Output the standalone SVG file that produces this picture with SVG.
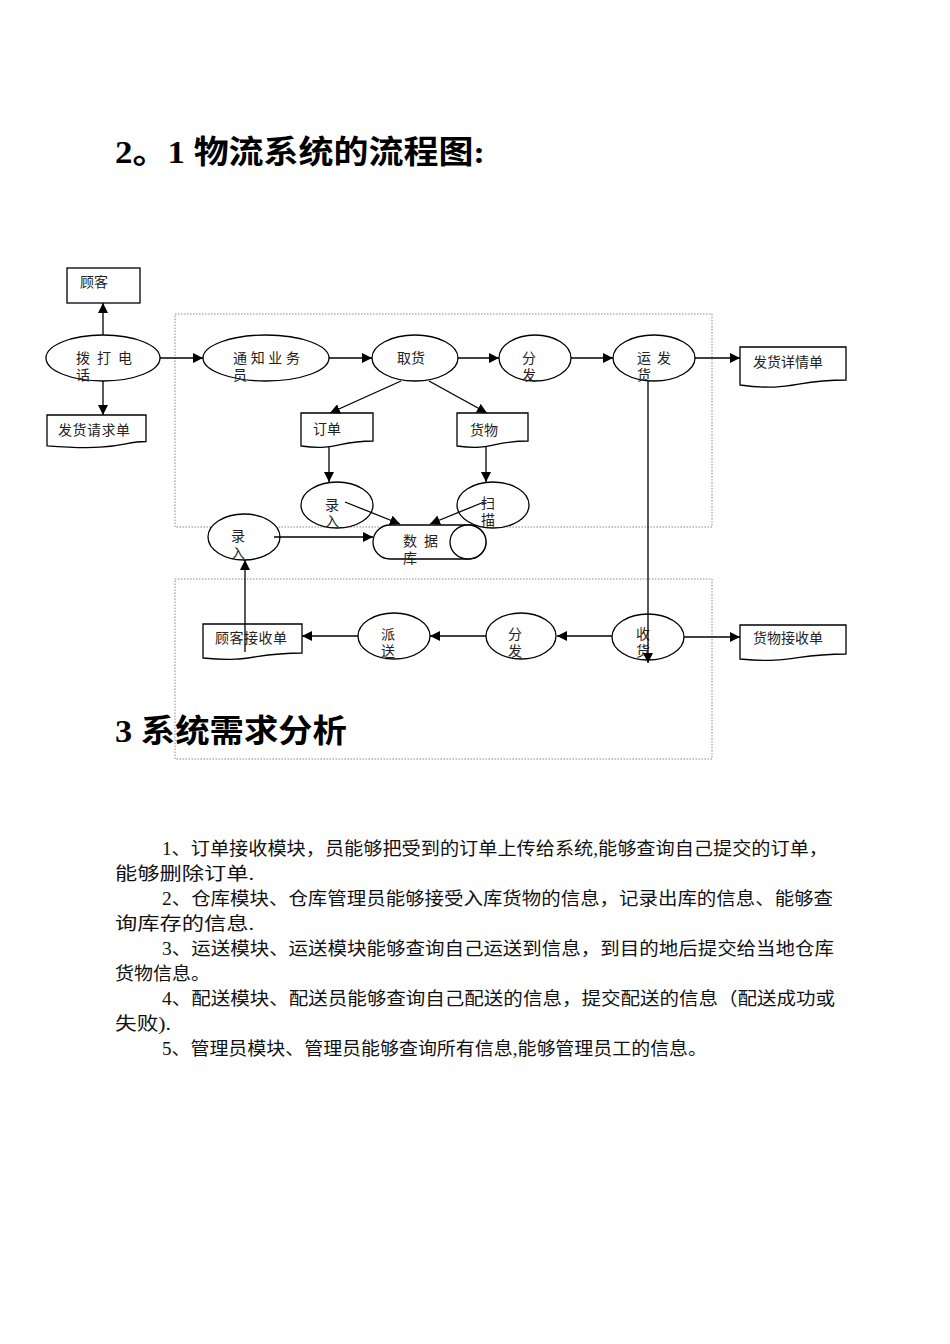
<svg xmlns="http://www.w3.org/2000/svg" width="950" height="1344" viewBox="0 0 950 1344">
<style>
.bg{fill:#fff}
.frame{fill:none;stroke:#888;stroke-width:1;stroke-dasharray:1.5,1.5}
.sh{fill:#fff;stroke:#000;stroke-width:1.3}
.lbl{font-family:"Liberation Sans","Noto Sans CJK SC",sans-serif;font-size:14px;fill:#222}
.ln{stroke:#000;stroke-width:1.3;fill:none;marker-end:url(#ah)}
.h{font-family:"Liberation Serif","Noto Sans CJK SC",serif;font-size:32px;font-weight:bold;fill:#000}
.p{font-family:"Liberation Serif","Noto Sans CJK SC",serif;font-size:18px;fill:#111}
</style>
<defs>
<marker id="ah" viewBox="0 0 10 10" refX="10" refY="5" markerWidth="10" markerHeight="10" markerUnits="userSpaceOnUse" orient="auto">
<path d="M0,0 L10,5 L0,10 Z" fill="#000"/>
</marker>
</defs>
<rect class="bg" width="950" height="1344"/>
<text class="h" x="115" y="163" textLength="370" lengthAdjust="spacingAndGlyphs">2。1 物流系统的流程图:</text>
<rect class="frame" x="175" y="314" width="537" height="213"/>
<rect class="frame" x="175" y="579" width="537" height="180"/>
<g id="n-guke"><rect class="sh" x="67" y="268" width="73" height="35"/><text class="lbl" x="80" y="287">顾客</text></g>
<g id="n-boda"><ellipse class="sh" cx="103" cy="358" rx="57" ry="23"/><text class="lbl" x="76" y="363" textLength="56">拨 打 电</text><text class="lbl" x="76" y="380">话</text></g>
<g id="n-qingqiu"><path class="sh" d="M47,415 H146 V441.5 C121,441.5 121,451.5 47,445.8 Z"/><text class="lbl" x="58" y="435" textLength="72">发货请求单</text></g>
<g id="n-tongzhi"><ellipse class="sh" cx="266" cy="358" rx="63" ry="23"/><text class="lbl" x="233" y="363" textLength="67">通 知 业 务</text><text class="lbl" x="233" y="380">员</text></g>
<g id="n-quhuo"><ellipse class="sh" cx="415" cy="358" rx="43" ry="23"/><text class="lbl" x="397" y="363">取货</text></g>
<g id="n-fenfa1"><ellipse class="sh" cx="535" cy="358" rx="36" ry="23"/><text class="lbl" x="522" y="363">分</text><text class="lbl" x="522" y="380">发</text></g>
<g id="n-yunfa"><ellipse class="sh" cx="654" cy="358" rx="41" ry="23"/><text class="lbl" x="637" y="363" textLength="34">运 发</text><text class="lbl" x="637" y="380">货</text></g>
<g id="n-xiangqing"><path class="sh" d="M740,347 H846 V380 C793,380 793,392 740,385 Z"/><text class="lbl" x="753" y="367" textLength="70">发货详情单</text></g>
<g id="n-dingdan"><path class="sh" d="M301,413 H373 V441 C337,441 337,451 301,446 Z"/><text class="lbl" x="313" y="434">订单</text></g>
<g id="n-huowu"><path class="sh" d="M457,413 H528 V441 C492,441 492,451 457,446 Z"/><text class="lbl" x="470" y="435">货物</text></g>
<g id="n-luru1"><ellipse class="sh" cx="337" cy="505" rx="36" ry="23"/><text class="lbl" x="325" y="510">录</text><text class="lbl" x="325" y="526">入</text></g>
<g id="n-saomiao"><ellipse class="sh" cx="493" cy="505" rx="36" ry="23"/><text class="lbl" x="481" y="508">扫</text><text class="lbl" x="481" y="525">描</text></g>
<g id="n-luru2"><ellipse class="sh" cx="244" cy="537" rx="36" ry="23"/><text class="lbl" x="231" y="541">录</text><text class="lbl" x="231" y="558">入</text></g>
<g id="n-db"><rect class="sh" x="373" y="525" width="113" height="34" rx="17" ry="17"/><ellipse class="sh" cx="468" cy="542" rx="18" ry="17"/><text class="lbl" x="403" y="546" textLength="35">数 据</text><text class="lbl" x="403" y="563">库</text></g>
<g id="n-shouhuo"><ellipse class="sh" cx="648" cy="637" rx="36" ry="23"/><text class="lbl" x="636" y="639">收</text><text class="lbl" x="636" y="656">货</text></g>
<g id="n-jieshou"><path class="sh" d="M740,625 H846 V654 C793,654 793,664 740,659 Z"/><text class="lbl" x="753" y="643" textLength="70">货物接收单</text></g>
<g id="n-fenfa2"><ellipse class="sh" cx="521" cy="636" rx="35" ry="23"/><text class="lbl" x="508" y="639">分</text><text class="lbl" x="508" y="656">发</text></g>
<g id="n-paisong"><ellipse class="sh" cx="394" cy="636" rx="36" ry="23"/><text class="lbl" x="381" y="639">派</text><text class="lbl" x="381" y="656">送</text></g>
<g id="n-kehu"><path class="sh" d="M203,624 H302 V653 C252,653 252,663 203,658 Z"/><text class="lbl" x="215" y="643" textLength="72">顾客接收单</text></g>
<g id="connectors">
<line class="ln" x1="103" y1="335" x2="103" y2="303"/>
<line class="ln" x1="103" y1="381" x2="103" y2="415"/>
<line class="ln" x1="160" y1="358" x2="203" y2="358"/>
<line class="ln" x1="329" y1="358" x2="372" y2="358"/>
<line class="ln" x1="458" y1="358" x2="499" y2="358"/>
<line class="ln" x1="571" y1="358" x2="613" y2="358"/>
<line class="ln" x1="695" y1="358" x2="740" y2="358"/>
<line class="ln" x1="401" y1="381" x2="330" y2="413"/>
<line class="ln" x1="429" y1="381" x2="487" y2="413"/>
<line class="ln" x1="329" y1="447" x2="329" y2="482"/>
<line class="ln" x1="486" y1="447" x2="486" y2="482"/>
<line class="ln" x1="345" y1="502" x2="400" y2="524"/>
<line class="ln" x1="484" y1="502" x2="430" y2="524"/>
<line class="ln" x1="274" y1="537" x2="373" y2="537"/>
<line class="ln" x1="245" y1="652" x2="245" y2="560"/>
<line class="ln" x1="648" y1="381" x2="648" y2="663"/>
<line class="ln" x1="684" y1="637" x2="740" y2="637"/>
<line class="ln" x1="612" y1="636" x2="557" y2="636"/>
<line class="ln" x1="486" y1="636" x2="430" y2="636"/>
<line class="ln" x1="358" y1="636" x2="302" y2="636"/>
</g>
<text class="h" x="115" y="742" textLength="232" lengthAdjust="spacingAndGlyphs">3 系统需求分析</text>
<text class="p" x="162" y="855" textLength="666" lengthAdjust="spacingAndGlyphs">1、订单接收模块，员能够把受到的订单上传给系统,能够查询自己提交的订单，</text>
<text class="p" x="115" y="880" textLength="139" lengthAdjust="spacingAndGlyphs">能够删除订单.</text>
<text class="p" x="162" y="905" textLength="671" lengthAdjust="spacingAndGlyphs">2、仓库模块、仓库管理员能够接受入库货物的信息，记录出库的信息、能够查</text>
<text class="p" x="115" y="930" textLength="139" lengthAdjust="spacingAndGlyphs">询库存的信息.</text>
<text class="p" x="162" y="955" textLength="672" lengthAdjust="spacingAndGlyphs">3、运送模块、运送模块能够查询自己运送到信息，到目的地后提交给当地仓库</text>
<text class="p" x="115" y="980" textLength="95" lengthAdjust="spacingAndGlyphs">货物信息。</text>
<text class="p" x="162" y="1005" textLength="673" lengthAdjust="spacingAndGlyphs">4、配送模块、配送员能够查询自己配送的信息，提交配送的信息（配送成功或</text>
<text class="p" x="115" y="1030" textLength="56" lengthAdjust="spacingAndGlyphs">失败).</text>
<text class="p" x="162" y="1055" textLength="545" lengthAdjust="spacingAndGlyphs">5、管理员模块、管理员能够查询所有信息,能够管理员工的信息。</text>
</svg>
